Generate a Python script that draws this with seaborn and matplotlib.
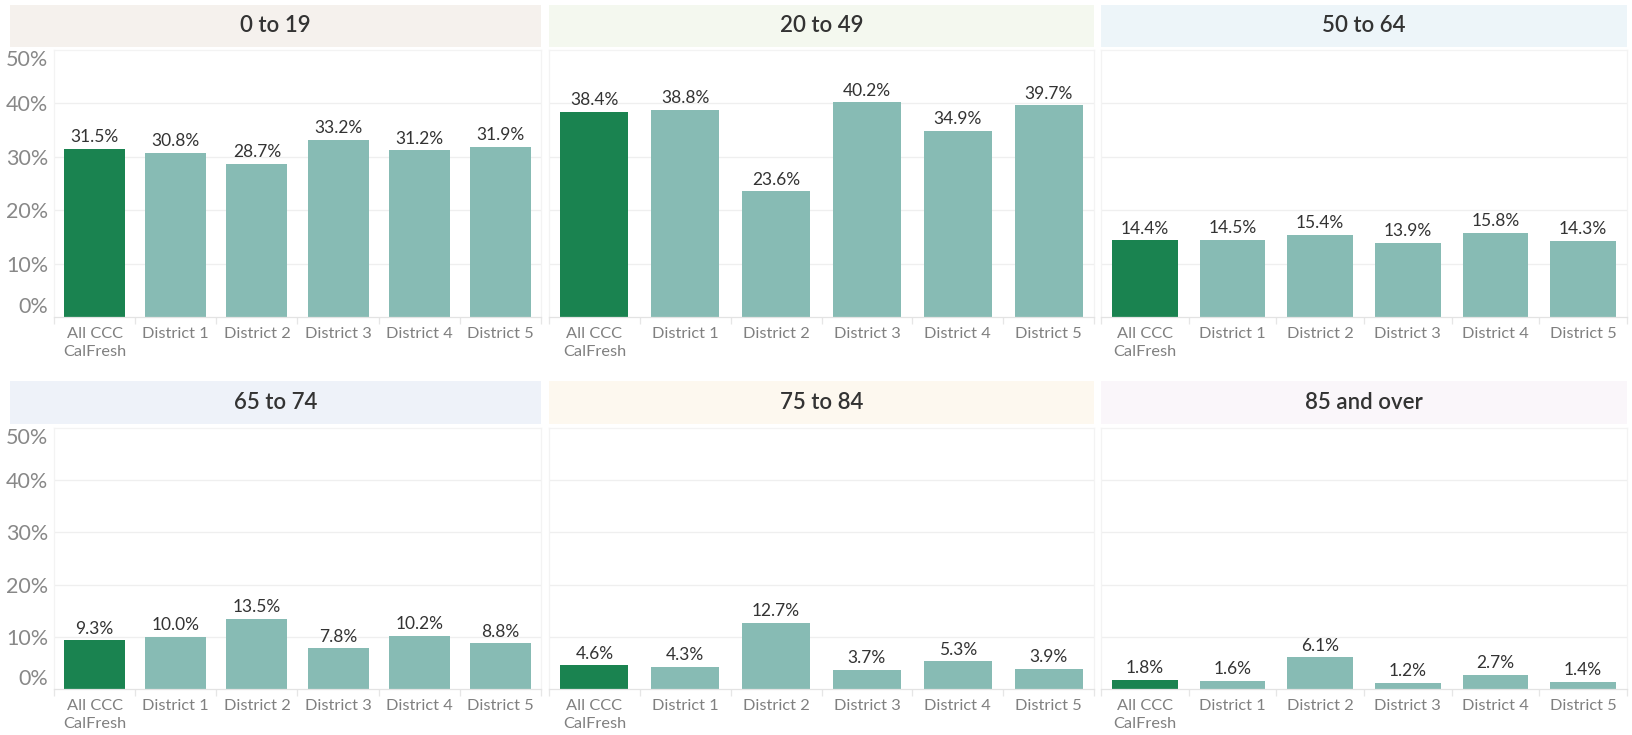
import pandas as pd
import seaborn as sns
import matplotlib.pyplot as plt

sns.set_theme(style="white")
plt.rcParams['font.family'] = ['Lato', 'DejaVu Sans']

# %%
age_groups = ["0 to 19", "20 to 49", "50 to 64", "65 to 74", "75 to 84", "85 and over"]
districts = ["All CCC\nCalFresh", "District 1", "District 2", "District 3", "District 4", "District 5"]

pct_0_19 = [31.5, 30.8, 28.7, 33.2, 31.2, 31.9]
pct_20_49 = [38.4, 38.8, 23.6, 40.2, 34.9, 39.7]
pct_50_64 = [14.4, 14.5, 15.4, 13.9, 15.8, 14.3]
pct_65_74 = [9.3, 10.0, 13.5, 7.8, 10.2, 8.8]
pct_75_84 = [4.6, 4.3, 12.7, 3.7, 5.3, 3.9]
pct_85_up = [1.8, 1.6, 6.1, 1.2, 2.7, 1.4]

yticks = [0, 10, 20, 30, 40, 50]

all_pct = [pct_0_19, pct_20_49, pct_50_64, pct_65_74, pct_75_84, pct_85_up]
header_colors = ["#f5f1ed", "#f4f8ef", "#edf5f9", "#eef2f9", "#fdf8ef", "#faf6fa"]
bar_colors = ["#1a8350"] + ["#87bbb4"] * 5

# %%
W, H = 1632, 735
fig = plt.figure(figsize=(W / 100, H / 100), dpi=100)

def px_axes(x0, y0, x1, y1):
    # pixel box (top-left origin) -> figure axes
    return fig.add_axes([x0 / W, 1 - y1 / H, (x1 - x0) / W, (y1 - y0) / H])

cols = [(54, 541), (549, 1094), (1101, 1627)]
header_x0 = [10, 549, 1101]
rows = [(5, 47, 50, 317), (381, 424, 428, 689)]

for i, (age, vals) in enumerate(zip(age_groups, all_pct)):
    r, c = divmod(i, 3)
    hy0, hy1, py0, py1 = rows[r]
    x0, x1 = cols[c]

    # header band
    hax = px_axes(header_x0[c], hy0, x1, hy1)
    hax.set_facecolor(header_colors[i])
    hax.set_xticks([])
    hax.set_yticks([])
    for s in hax.spines.values():
        s.set_visible(False)
    hax.text(0.5, 0.5, age, ha="center", va="center", fontsize=16,
             color="#333333", fontweight="semibold", transform=hax.transAxes)

    # bars
    ax = px_axes(x0, py0, x1, py1)
    df = pd.DataFrame({"district": districts, "pct": vals})
    sns.barplot(data=df, x="district", y="pct", hue="district", palette=bar_colors,
                legend=False, width=0.75, linewidth=0, saturation=1, ax=ax)
    ax.set_xlim(-0.5, 5.5)
    ax.set_ylim(0, 50)
    ax.set_xlabel("")
    ax.set_ylabel("")

    for k, v in enumerate(vals):
        ax.annotate(f"{v:.1f}%", (k, v), xytext=(0, 2.5), textcoords="offset points",
                    ha="center", va="bottom", fontsize=12.5, color="#333333")

    ax.set_yticks(yticks)
    for y in yticks[1:-1]:
        ax.axhline(y, color="#efefef", lw=0.9, zorder=0)

    if c == 0:
        ax.set_yticklabels([f"{t}%" for t in yticks], fontsize=15.5, color="#888888")
        labels = ax.get_yticklabels()
        labels[0].set_va("bottom")
        labels[-1].set_va("top")
        ax.tick_params(axis="y", length=0, pad=4)
    else:
        ax.tick_params(axis="y", length=0, labelleft=False)

    ax.tick_params(axis="x", which="major", length=0, pad=7, labelsize=11.8,
                   labelcolor="#808080")
    for lab in ax.get_xticklabels():
        lab.set_linespacing(1.35)
    ax.set_xticks([k - 0.5 for k in range(7)], minor=True)
    ax.tick_params(axis="x", which="minor", length=5, width=0.9, color="#e6e6e6",
                   direction="out", bottom=True)

    for s in ["top", "left", "right"]:
        ax.spines[s].set_color("#f3f3f3")
        ax.spines[s].set_linewidth(0.9)
    ax.spines["bottom"].set_color("#e3e3e3")
    ax.spines["bottom"].set_linewidth(0.9)

fig.savefig("out.png", dpi=100, facecolor="white")
